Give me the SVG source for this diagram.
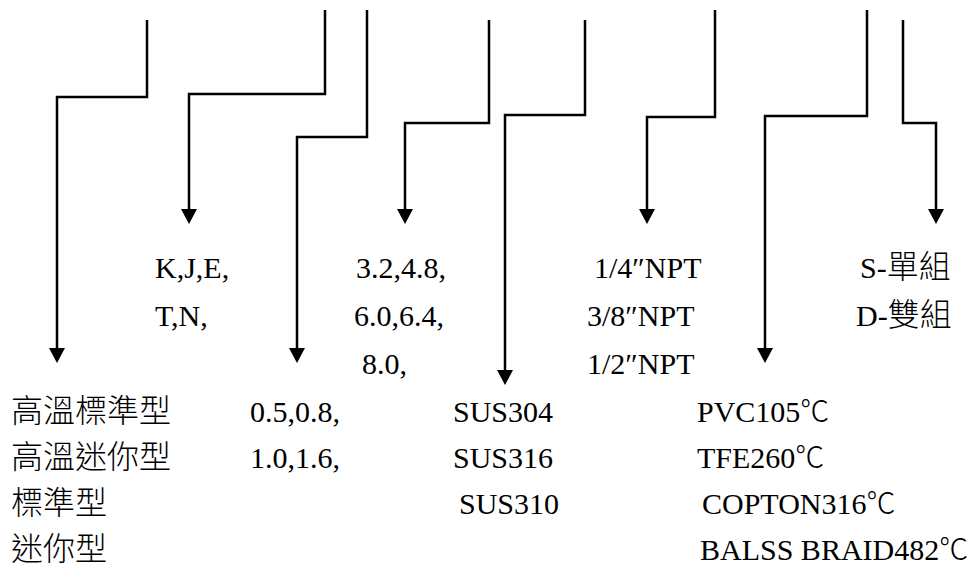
<svg xmlns="http://www.w3.org/2000/svg" width="973" height="574" viewBox="0 0 973 574">
<style>
  .t { font-family: "Liberation Serif", "Noto Sans CJK TC", serif; font-size: 30px; fill: #000; }
  .k { font-family: "Noto Sans CJK TC", sans-serif; font-size: 32px; font-weight: 300; }
  .d { font-family: "Noto Sans CJK TC", sans-serif; font-size: 29px; font-weight: 300; }
  .ln { fill: none; stroke: #000; stroke-width: 2.5; stroke-linejoin: miter; stroke-linecap: butt; }
</style>
<defs>
  <marker id="ah" markerUnits="userSpaceOnUse" markerWidth="16" markerHeight="17" refX="0" refY="8" orient="auto" overflow="visible">
    <path d="M0,0 L15,8 L0,16 Z" fill="#000"/>
  </marker>
</defs>
<rect width="973" height="574" fill="#fff"/>
<g id="connectors">
  <path class="ln" d="M147,20 V97 H57 V348" marker-end="url(#ah)"/>
  <path class="ln" d="M325,10 V94 H189 V209" marker-end="url(#ah)"/>
  <path class="ln" d="M367,10 V137 H297 V348" marker-end="url(#ah)"/>
  <path class="ln" d="M489,20 V123 H405 V209" marker-end="url(#ah)"/>
  <path class="ln" d="M585,20 V115 H505 V370" marker-end="url(#ah)"/>
  <path class="ln" d="M715,10 V117 H647 V209" marker-end="url(#ah)"/>
  <path class="ln" d="M867,10 V116 H765 V348" marker-end="url(#ah)"/>
  <path class="ln" d="M903,20 V123 H936 V209" marker-end="url(#ah)"/>
</g>
<g id="type">
  <text class="t" x="11" y="422"><tspan class="k">高溫標準型</tspan></text>
  <text class="t" x="11" y="468"><tspan class="k">高溫迷你型</tspan></text>
  <text class="t" x="11" y="514"><tspan class="k">標準型</tspan></text>
  <text class="t" x="11" y="560"><tspan class="k">迷你型</tspan></text>
</g>
<g id="thermocouple">
  <text class="t" x="155" y="278">K,J,E,</text>
  <text class="t" x="155" y="326">T,N,</text>
</g>
<g id="diameter-small">
  <text class="t" x="250" y="422">0.5,0.8,</text>
  <text class="t" x="250" y="468">1.0,1.6,</text>
</g>
<g id="diameter-large">
  <text class="t" x="356" y="278">3.2,4.8,</text>
  <text class="t" x="354" y="326">6.0,6.4,</text>
  <text class="t" x="362" y="374">8.0,</text>
</g>
<g id="material">
  <text class="t" x="453" y="422">SUS304</text>
  <text class="t" x="453" y="468">SUS316</text>
  <text class="t" x="459" y="514">SUS310</text>
</g>
<g id="thread">
  <text class="t" x="594" y="278">1/4″NPT</text>
  <text class="t" x="587" y="326">3/8″NPT</text>
  <text class="t" x="587" y="374">1/2″NPT</text>
</g>
<g id="insulation">
  <text class="t" x="697" y="422">PVC105<tspan class="d">℃</tspan></text>
  <text class="t" x="697" y="468">TFE260<tspan class="d">℃</tspan></text>
  <text class="t" x="702" y="514">COPTON316<tspan class="d">℃</tspan></text>
  <text class="t" x="700" y="560">BALSS BRAID482<tspan class="d">℃</tspan></text>
</g>
<g id="element">
  <text class="t" x="860" y="278">S-<tspan class="k">單組</tspan></text>
  <text class="t" x="856" y="326">D-<tspan class="k">雙組</tspan></text>
</g>
</svg>
